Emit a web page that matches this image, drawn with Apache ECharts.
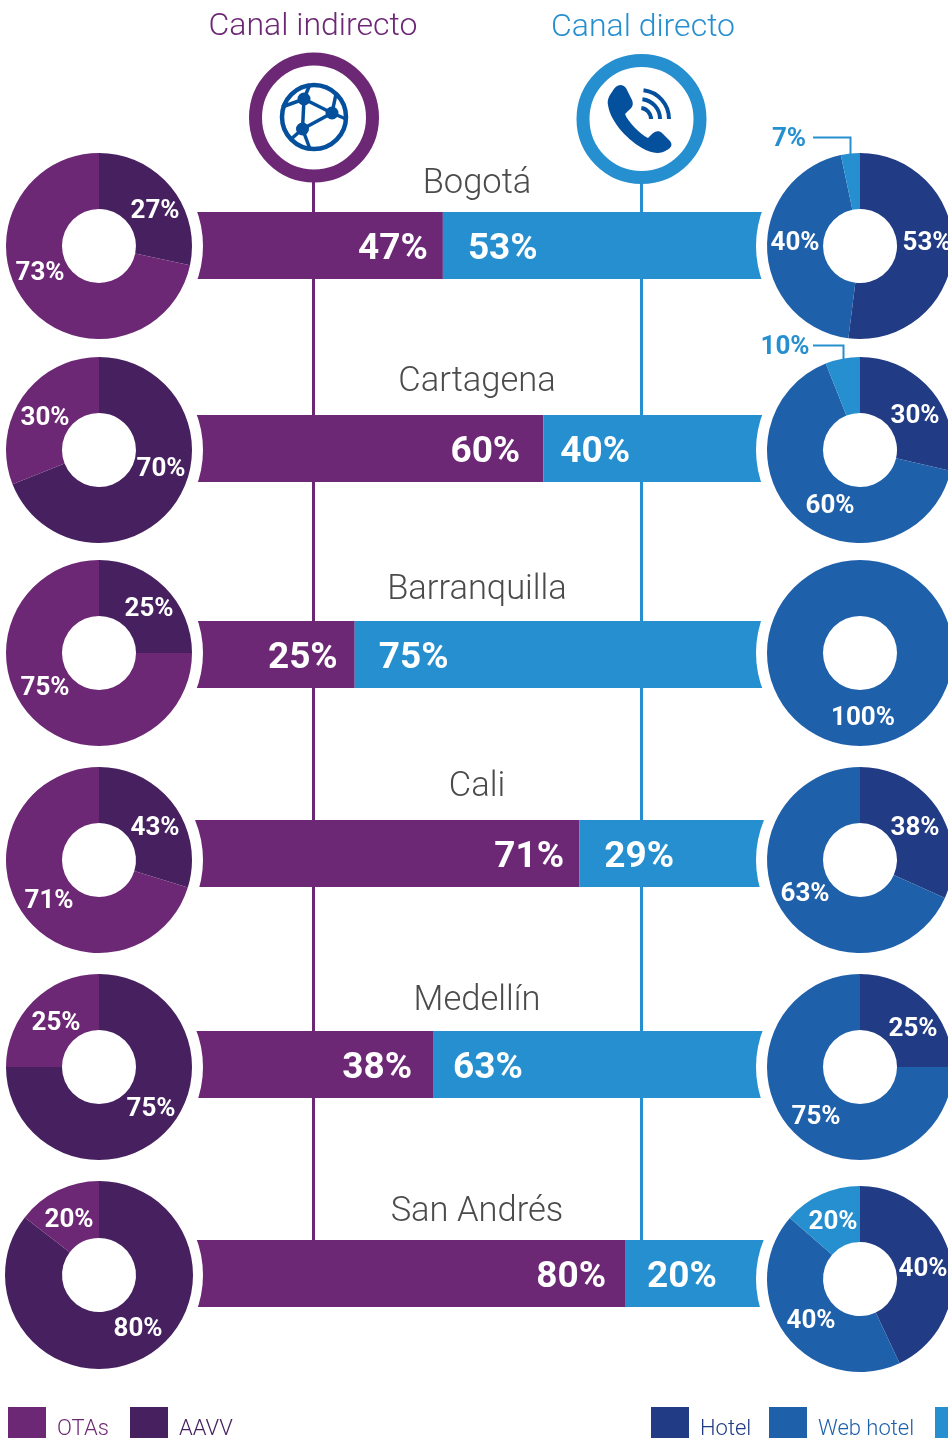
<!DOCTYPE html>
<html><head><meta charset="utf-8">
<style>html,body{margin:0;padding:0;background:#fff;overflow:hidden}#c{width:948px;height:1438px}</style>
<script src="https://cdn.jsdelivr.net/npm/echarts@6/dist/echarts.min.js"></script>
</head><body><div id="c"></div>
<script>
// ---- data ----
const cities = ['Bogotá','Cartagena','Barranquilla','Cali','Medellín','San Andrés'];
// printed percentages
const indirectPrinted = [47,60,25,71,38,80];
const directPrinted   = [53,40,75,29,63,20];
// bar lengths as drawn in the picture (share of bar, not always equal to printed figure)
const indirectDrawn = [43.6,60.9,28.4,67.1,41.9,75.0];
const directDrawn   = [56.4,39.1,71.6,32.9,58.1,25.0];
// left donuts
const aavvDrawn   = [28.3,69,25,29.8,75,85.5];
const otasDrawn   = [71.7,31,75,70.2,25,14.5];
const aavvPrinted = [27,70,25,43,75,80];
const otasPrinted = [73,30,75,71,25,20];
// right donuts
const hotelDrawn   = [52,28.6,0,31.7,25,43];
const webDrawn     = [44.7,65.4,100,68.3,75,43.4];
const otherDrawn   = [3.3,6,0,0,0,13.6];
const hotelPrinted = [53,30,0,38,25,40];
const webPrinted   = [40,60,100,63,75,40];
const otherPrinted = [7,10,0,0,0,20];

// ---- layout and style ----
const C = {ota:'#6d2875',aavv:'#46205f',hotel:'#213b84',web:'#1f60ab',other:'#268fd0',icon:'#04509c',city:'#4b4b4b'};
const FONT='Roboto';
const barTops=[212,415,621,820,1031,1240], barH=67;
const leftCy=[246,450,653,860,1067,1275], rightCy=[246,450,653,860,1067,1279];
const leftX=99, rightX=860;
const cityY=[184,382,590,787,1001,1212];
const gapInd=[15,23,17,15,21,19], gapDir=[25,17,24,25,20,22];
const leftLabelPos=[
 {a:[155,211],o:[40,273]},{a:[161,469],o:[45,418]},{a:[149,609],o:[45,688]},
 {a:[155,828],o:[49,901]},{a:[151,1109],o:[56,1023]},{a:[138,1329],o:[69,1220]}];
const rightLabelPos=[
 {h:[927,243],w:[795,243],x:[789,139]},{h:[915,416],w:[830,506],x:[785,347]},{w:[863,718]},
 {h:[915,828],w:[805,894]},{h:[913,1029],w:[816,1117]},{h:[923,1269],w:[811,1321],x:[833,1222]}];

echarts.graphic.registerShape('phoneHandset',echarts.graphic.extendPath('M612 92 C616 84 622 83 626 88 L632 100 C634 105 632 108 628 111 L625 114 C628 122 640 134 648 138 L652 134 C655 131 659 130 662 133 L670 141 C673 145 671 148 667 150 C660 155 650 153 642 148 C625 138 610 120 608 105 C607 100 609 96 612 92 Z',{}));

const grid=[],xAxis=[],yAxis=[],series=[];
cities.forEach((c,i)=>{
  grid.push({left:190,width:580,top:barTops[i],height:barH});
  xAxis.push({type:'value',gridIndex:i,min:0,max:100,show:false});
  yAxis.push({type:'category',gridIndex:i,data:[c],show:false});
  const lbl=(txt,pos,d)=>({show:true,position:pos,distance:d,offset:[0,4],formatter:txt+'%',color:'#fff',fontFamily:FONT,fontWeight:700,fontSize:37});
  series.push({type:'bar',xAxisIndex:i,yAxisIndex:i,stack:'s'+i,barWidth:barH,silent:true,z:2,
    data:[{value:indirectDrawn[i],itemStyle:{color:C.ota},label:lbl(indirectPrinted[i],'insideRight',gapInd[i])}]});
  series.push({type:'bar',xAxisIndex:i,yAxisIndex:i,stack:'s'+i,barWidth:barH,silent:true,z:2,
    data:[{value:directDrawn[i],itemStyle:{color:C.other},label:lbl(directPrinted[i],'insideLeft',gapDir[i])}]});
  // white halo that bites the bar ends
  [[leftX,leftCy[i]],[rightX,rightCy[i]]].forEach(ct=>series.push({type:'pie',center:ct,radius:[0,104],silent:true,z:3,
    label:{show:false},labelLine:{show:false},legendHoverLink:false,itemStyle:{color:'#fff'},data:[{value:1,name:'_'}],animation:false}));
  const pieLabel=(col)=>({show:true,position:'inside',color:col||'#fff',fontFamily:FONT,fontWeight:700,fontSize:26});
  const mkPie=(ctr,r,items)=>{
    const its=items.filter(d=>d.value>0);
    series.push({type:'pie',center:ctr,radius:r,z:4,silent:true,startAngle:90,clockwise:true,avoidLabelOverlap:false,animation:false,
      labelLine:{show:false},
      data:its.map(d=>({name:d.name,value:d.value,itemStyle:{color:d.color},
        label:{...pieLabel(d.lblColor),formatter:d.printed+'%'}})),
      labelLayout:p=>{const pos=its[p.dataIndex].pos;return {x:pos[0],y:pos[1],align:'center',verticalAlign:'middle',hideOverlap:false};}
    });
  };
  mkPie([leftX,leftCy[i]],[37,i===5?94:93],[
    {name:'AAVV',value:aavvDrawn[i],printed:aavvPrinted[i],color:C.aavv,pos:leftLabelPos[i].a},
    {name:'OTAs',value:otasDrawn[i],printed:otasPrinted[i],color:C.ota,pos:leftLabelPos[i].o}]);
  mkPie([rightX,rightCy[i]],[37,93],[
    {name:'Hotel',value:hotelDrawn[i],printed:hotelPrinted[i],color:C.hotel,pos:rightLabelPos[i].h},
    {name:'Web hotel',value:webDrawn[i],printed:webPrinted[i],color:C.web,pos:rightLabelPos[i].w},
    {name:'Call center',value:otherDrawn[i],printed:otherPrinted[i],color:C.other,pos:rightLabelPos[i].x,
     lblColor:(i<2)?C.other:'#fff'}]);
});

// legend: one component per entry so each sits where the picture has it
const legendEntries=[['OTAs',8,C.ota],['AAVV',130,C.aavv],['Hotel',651,C.hotel],['Web hotel',769,C.web],['Call center',935,C.other]];
const legend=legendEntries.map(e=>({data:[e[0]],left:e[1],top:1407,width:220,padding:0,itemWidth:38,itemHeight:31,selectedMode:false,
  icon:'rect',itemStyle:{color:e[2]},
  formatter:'{t|{name}}',
  textStyle:{color:e[2],fontFamily:FONT,fontWeight:300,fontSize:22,
    rich:{t:{color:e[2],fontFamily:FONT,fontWeight:300,fontSize:22,padding:[14,0,0,6]}}}}));

const line=(pts,col,w,z)=>({type:'polyline',silent:true,z:z,shape:{points:pts},style:{fill:null,stroke:col,lineWidth:w}});
const ring=(x,y,col)=>({type:'circle',silent:true,z:6,shape:{cx:x,cy:y,r:58.5},style:{fill:'#fff',stroke:col,lineWidth:13}});
const text=(t,x,y,col,size,al)=>({type:'text',silent:true,z:6,x:x,y:y,style:{text:t,fill:col,font:`300 ${size}px ${FONT}`,align:al||'center',verticalAlign:'middle'}});
const node=(x,y,r)=>({type:'circle',silent:true,z:7,shape:{cx:x,cy:y,r:r},style:{fill:C.icon}});
const g=[
  line([[313.5,180],[313.5,1242]],C.ota,3,0),
  line([[641.5,180],[641.5,1242]],C.other,3,0),
  ring(314,117.5,C.ota), ring(641.5,119,C.other),
  text('Canal indirecto',313,27,C.ota,32), text('Canal directo',643,28,C.other,32),
  // network globe
  {type:'circle',silent:true,z:7,shape:{cx:314,cy:117,r:32},style:{fill:null,stroke:C.icon,lineWidth:4.5}},
  line([[304,99],[332,113],[302.5,129],[304,99]],C.icon,3.5,7),
  line([[304,99],[282,107]],C.icon,3.5,7), line([[304,99],[310,84]],C.icon,3.5,7),
  line([[332,113],[346,119]],C.icon,3.5,7), line([[332,113],[336,94]],C.icon,3.5,7),
  line([[302.5,129],[290,140]],C.icon,3.5,7), line([[302.5,129],[310,149]],C.icon,3.5,7),
  node(304,99,6.5), node(332,113,6.5), node(302.5,129,6.5),
  // telephone
  {type:'phoneHandset',silent:true,z:7,shape:{},style:{fill:C.icon}},
  ...[11,20,29].map(r=>({type:'arc',silent:true,z:7,shape:{cx:640,cy:119,r:r,startAngle:-1.45,endAngle:0,clockwise:true},style:{fill:null,stroke:C.icon,lineWidth:4}})),
  // leader lines for the small slices
  line([[813,137.5],[850.5,137.5],[850.5,154]],C.other,2,6),
  line([[813,345.5],[843.5,345.5],[843.5,361]],C.other,2,6),
  ...cities.map((c,i)=>text(c,477,cityY[i],C.city,34.5))
];

const chart=echarts.init(document.getElementById('c'),null,{renderer:'canvas'});
chart.setOption({animation:false,backgroundColor:'#fff',tooltip:{show:false},grid,xAxis,yAxis,legend,series,graphic:{elements:g}});
</script></body></html>
